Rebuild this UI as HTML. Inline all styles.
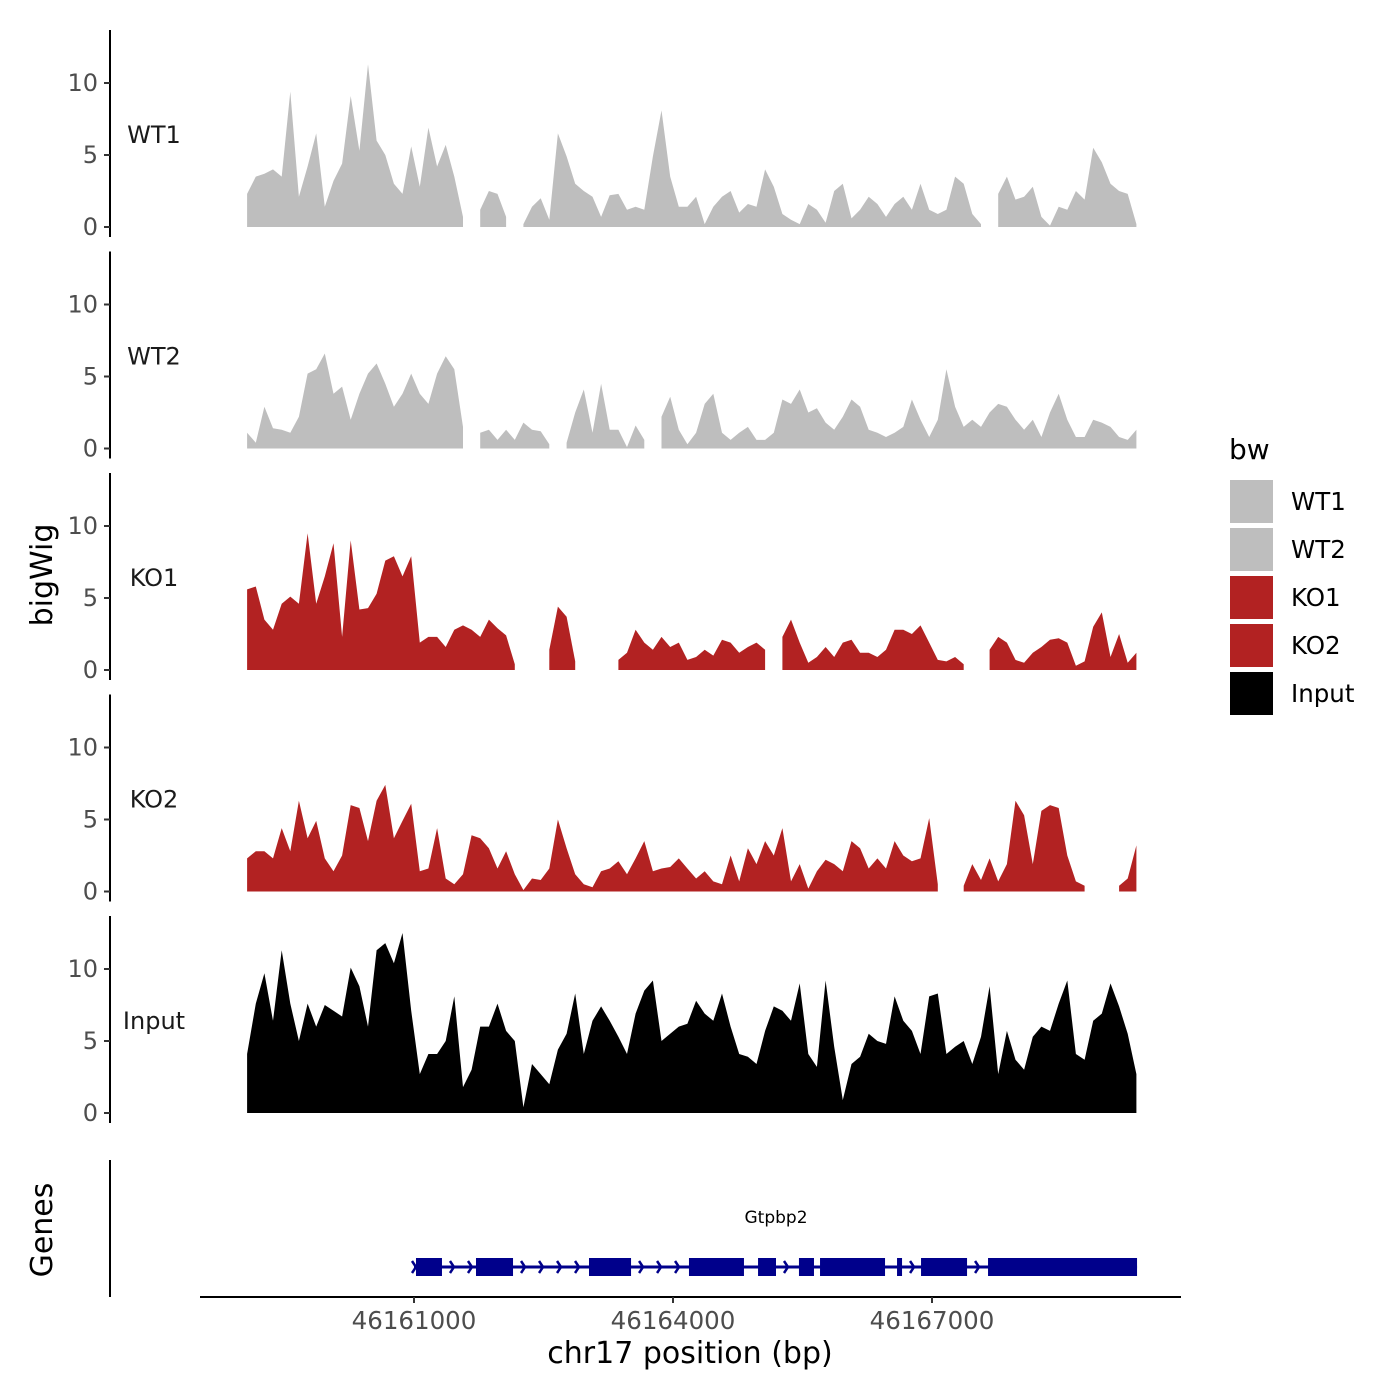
<!DOCTYPE html>
<html><head><meta charset="utf-8"><style>
html,body{margin:0;padding:0;background:#fff;}
svg{display:block;font-family:"DejaVu Sans","Liberation Sans",sans-serif;}
</style></head><body>
<svg id="chart" width="1400" height="1400" viewBox="0 0 1400 1400" xmlns="http://www.w3.org/2000/svg"></svg>
<script>
// ---- data ----
const binStart = 46159067;      // first bin position (bp)
const binSize = 100;            // bp per bin
const sampleNames = ["WT1","WT2","KO1","KO2","Input"];
const sampleGroups = ["WT","WT","KO","KO","Input"];
const yTicks = [0,5,10];
const xTicks = [46161000,46164000,46167000];
const xTickLabels = ["46161000","46164000","46167000"];
const legendLabels = ["WT1","WT2","KO1","KO2","Input"];
const N = null;
const wt1 = [2.3,3.5,3.7,4.0,3.5,9.4,2.1,4.2,6.5,1.4,3.2,4.4,9.1,5.3,11.3,6.0,5.0,3.0,2.3,5.6,2.8,6.9,4.2,5.7,3.5,0.7,N,1.2,2.5,2.3,0.7,N,0.2,1.4,2.0,0.5,6.5,4.9,3.0,2.5,2.1,0.7,2.2,2.3,1.2,1.4,1.2,4.9,8.1,3.5,1.4,1.4,2.1,0.2,1.4,2.1,2.5,1.0,1.6,1.4,4.0,2.8,0.9,0.5,0.2,1.6,1.2,0.3,2.5,3.0,0.6,1.2,2.1,1.6,0.7,1.6,2.1,1.2,3.0,1.2,0.9,1.2,3.5,3.0,0.9,0.2,N,2.3,3.5,1.9,2.1,2.8,0.7,0.1,1.4,1.2,2.5,1.9,5.5,4.5,3.0,2.5,2.3,0.2];
const wt2 = [1.1,0.4,2.9,1.4,1.3,1.1,2.2,5.2,5.5,6.6,3.8,4.3,2.0,3.8,5.2,5.9,4.5,2.9,3.8,5.2,3.8,3.1,5.2,6.4,5.5,1.5,N,1.1,1.3,0.6,1.3,0.6,1.8,1.3,1.2,0.3,N,0.4,2.5,4.1,1.1,4.5,1.3,1.3,0.1,1.6,0.6,N,2.2,3.6,1.3,0.3,1.1,3.1,3.8,1.1,0.6,1.1,1.5,0.6,0.6,1.1,3.4,3.1,4.1,2.5,2.8,1.8,1.3,2.2,3.4,2.9,1.3,1.1,0.8,1.1,1.5,3.4,2.0,0.8,2.0,5.5,2.9,1.5,2.0,1.5,2.5,3.1,2.9,2.0,1.3,2.0,0.8,2.5,3.8,2.0,0.8,0.8,2.0,1.8,1.5,0.8,0.6,1.3];
const ko1 = [5.6,5.8,3.5,2.8,4.6,5.1,4.6,9.5,4.6,6.5,8.8,2.3,9.0,4.2,4.3,5.3,7.6,7.9,6.5,7.9,1.9,2.3,2.3,1.6,2.8,3.1,2.8,2.3,3.5,2.9,2.4,0.4,N,N,N,1.4,4.4,3.7,0.6,N,N,N,N,0.7,1.2,2.8,1.9,1.4,2.3,1.6,1.9,0.7,0.9,1.4,1.0,2.1,1.9,1.2,1.6,1.9,1.4,N,2.3,3.5,1.9,0.5,0.9,1.6,0.9,1.9,2.1,1.2,1.2,0.9,1.4,2.8,2.8,2.5,3.1,1.9,0.7,0.6,0.9,0.4,N,N,1.4,2.3,1.9,0.7,0.5,1.2,1.6,2.1,2.2,1.9,0.3,0.6,3.0,4.0,0.9,2.5,0.5,1.2];
const ko2 = [2.3,2.8,2.8,2.3,4.4,2.8,6.3,3.7,4.9,2.3,1.4,2.5,6.0,5.8,3.5,6.3,7.4,3.7,4.9,6.1,1.4,1.6,4.4,0.9,0.5,1.2,3.9,3.7,3.0,1.6,2.8,1.2,0.1,0.9,0.8,1.6,5.0,3.0,1.2,0.5,0.3,1.4,1.6,2.1,1.2,2.3,3.5,1.4,1.6,1.7,2.3,1.6,0.9,1.4,0.7,0.5,2.5,0.7,3.0,1.9,3.5,2.5,4.4,0.7,1.9,0.2,1.4,2.2,1.9,1.4,3.5,3.0,1.6,2.3,1.6,3.5,2.5,2.1,2.3,5.1,0.5,N,N,0.4,1.9,0.8,2.3,0.7,1.9,6.3,5.3,1.9,5.6,6.0,5.8,2.5,0.7,0.4,N,N,N,0.4,0.9,3.2];
const input = [4.1,7.6,9.7,6.4,11.3,7.6,5.0,7.6,6.0,7.5,7.1,6.7,10.1,8.8,6.0,11.3,11.8,10.4,12.5,7.1,2.7,4.1,4.1,5.0,8.1,1.8,3.0,6.0,6.0,7.6,5.7,5.0,0.4,3.4,2.7,2.0,4.4,5.5,8.3,4.1,6.4,7.4,6.4,5.3,4.1,6.9,8.5,9.2,5.0,5.5,6.0,6.2,7.8,6.9,6.4,8.3,6.0,4.1,3.9,3.4,5.7,7.4,7.1,6.4,9.0,4.1,3.2,9.2,4.6,0.9,3.4,3.9,5.5,5.0,4.8,8.1,6.4,5.7,4.1,8.1,8.3,4.1,4.6,5.0,3.4,5.3,8.8,2.7,5.7,3.7,3.0,5.3,6.0,5.7,7.6,9.2,4.1,3.7,6.4,6.9,9.0,7.4,5.5,2.7];
const seriesValues = [wt1,wt2,ko1,ko2,input];
const geneName = "Gtpbp2";
const geneStart = 46161000, geneEnd = 46169375;
const exonStarts = [46161023,46161718,46163027,46164185,46164985,46165459,46165703,46166595,46166873,46167649];
const exonEnds   = [46161324,46162147,46163514,46164822,46165193,46165633,46166456,46166653,46167406,46169375];

// ---- layout ----
const NS="http://www.w3.org/2000/svg";
const svg=document.getElementById('chart');
const colorOf={WT:"#bebebe",KO:"#b22222",Input:"#000000"};
const xPx=bp=>414+(bp-46161000)*(259/3000);
const zeroY=i=>227+i*221.5;
const yPx=(i,v)=>zeroY(i)-v*14.4;
function mk(tag,attrs,parent){const e=document.createElementNS(NS,tag);for(const k in attrs)e.setAttribute(k,attrs[k]);(parent||svg).appendChild(e);return e;}
function txt(s,attrs,parent){const e=mk('text',attrs,parent);e.textContent=s;return e;}

sampleNames.forEach((name,i)=>{
  const g=mk('g',{});
  
  
  const vals=seriesValues[i];
  const z=zeroY(i);
  let seg=[];
  const segs=[];
  vals.forEach((v,k)=>{
    if(v===null){if(seg.length)segs.push(seg);seg=[];}
    else seg.push([xPx(binStart+k*binSize),yPx(i,v)]);
  });
  if(seg.length)segs.push(seg);
  segs.forEach((s)=>{
    let d='M'+s[0][0].toFixed(1)+','+z;
    s.forEach(p=>{d+=' L'+p[0].toFixed(1)+','+p[1].toFixed(1);});
    d+=' L'+s[s.length-1][0].toFixed(1)+','+z+' Z';
    const p=mk('path',{d:d,fill:colorOf[sampleGroups[i]]},g);
    
    
  });
  const ax=mk('line',{x1:110,x2:110,y1:z-197,y2:z+10,stroke:'#000','stroke-width':2});
  
  
  yTicks.forEach(t=>{
    const y=yPx(i,t);
    mk('line',{x1:104,x2:110,y1:y,y2:y,stroke:'#333','stroke-width':2});
    const tl=txt(String(t),{x:98,y:y+8,'text-anchor':'end','font-size':24,fill:'#4d4d4d'});
    
    
  });
  const lb=txt(name,{x:154,y:z-84,'text-anchor':'middle','font-size':24,fill:'#1a1a1a'});
  
  
});

// gene track
const gg=mk('g',{});


mk('line',{x1:xPx(geneStart),x2:xPx(geneEnd),y1:1267,y2:1267,stroke:'#00008b','stroke-width':3},gg);
for(let k=0;k<exonStarts.length-1;k++){
  const a=xPx(exonEnds[k]),b=xPx(exonStarts[k+1]);
  for(let x=a+12;x<b-4;x+=18){
    mk('polyline',{points:(x-4)+',1261 '+x+',1267 '+(x-4)+',1273',fill:'none',stroke:'#00008b','stroke-width':2.5},gg);
  }
}
mk('polyline',{points:'412,1261 416,1267 412,1273',fill:'none',stroke:'#00008b','stroke-width':2.5},gg);
exonStarts.forEach((s,k)=>{
  const r=mk('rect',{x:xPx(s),y:1258,width:xPx(exonEnds[k])-xPx(s),height:18,fill:'#00008b'},gg);
  
  
});
const gn=txt(geneName,{x:776,y:1223,'text-anchor':'middle','font-size':17,fill:'#000'});


const ga=mk('line',{x1:110,x2:110,y1:1160,y2:1297,stroke:'#000','stroke-width':2});



// x axis
const xa=mk('line',{x1:200,x2:1181,y1:1297,y2:1297,stroke:'#000','stroke-width':2});


xTicks.forEach((t,k)=>{
  const x=xPx(t);
  mk('line',{x1:x,x2:x,y1:1297,y2:1303,stroke:'#333','stroke-width':2});
  const l=txt(xTickLabels[k],{x:x,y:1329,'text-anchor':'middle','font-size':24.5,fill:'#4d4d4d'});
  
  
});
const xt=txt('chr17 position (bp)',{x:690,y:1363,'text-anchor':'middle','font-size':30,fill:'#000'});


const yt=txt('bigWig',{x:0,y:0,'text-anchor':'middle','font-size':30,fill:'#000',transform:'translate(52,575) rotate(-90)'});


const gt=txt('Genes',{x:0,y:0,'text-anchor':'middle','font-size':30,fill:'#000',transform:'translate(52,1230) rotate(-90)'});



// legend
const lg=mk('g',{});


const ltt=txt('bw',{x:1229,y:459,'font-size':28,fill:'#000'},lg);


legendLabels.forEach((n,k)=>{
  const y=480+k*48;
  const r=mk('rect',{x:1230,y:y,width:43,height:43,fill:colorOf[sampleGroups[k]]},lg);
  
  
  const t=txt(n,{x:1291,y:y+30,'font-size':24.5,fill:'#000'},lg);
  
  
});
</script>
</body></html>
